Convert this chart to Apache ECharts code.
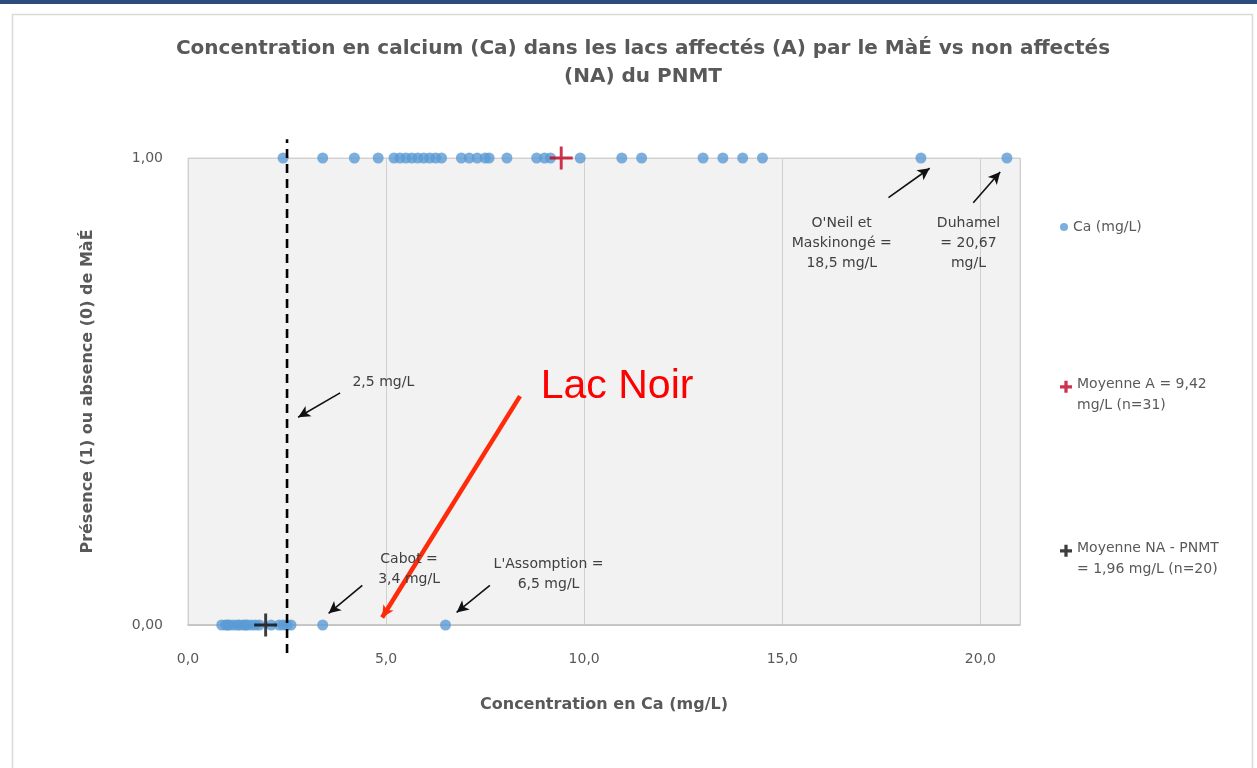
<!DOCTYPE html>
<html><head><meta charset="utf-8">
<script src="https://cdn.jsdelivr.net/npm/echarts@6/dist/echarts.min.js"></script>
<style>html,body{margin:0;padding:0;background:#fff}#c{width:1257px;height:768px}</style>
</head><body><div id="c"></div>
<script>
// Ca (mg/L) in affected lakes (presence = 1)
const caAffected = [2.4, 3.4, 4.2, 4.8, 5.2, 5.35, 5.5, 5.65, 5.8, 5.95, 6.1, 6.25, 6.4,
  6.9, 7.1, 7.3, 7.5, 7.6, 8.05, 8.8, 9.0, 9.15, 9.9, 10.95, 11.45, 13.0, 13.5, 14.0, 14.5, 18.5, 20.67];
// Ca (mg/L) in non-affected lakes (absence = 0)
const caNonAffected = [0.85, 0.95, 1.0, 1.05, 1.15, 1.25, 1.3, 1.4, 1.45, 1.5, 1.6, 1.7, 1.8,
  2.1, 2.3, 2.4, 2.5, 2.6, 3.4, 6.5];
const meanA = 9.42;
const meanNA = 1.96;
const threshold = 2.5;
const xTicks = [0, 5, 10, 15, 20];
const yTicks = [0, 1];

const nameCa = 'Ca (mg/L)';
const nameA = 'Moyenne A = 9,42\nmg/L (n=31)';
const nameNA = 'Moyenne NA - PNMT\n= 1,96 mg/L (n=20)';

const plusPath = 'path://M9.6,0H12.4V22H9.6Z M0,9.6H22V12.4H0Z';
// legend icon: bold plus in the upper part of its box so it sits on the first text line
const plusLegend = 'path://M8,0H14V22H8Z M0,8H22V14H0Z M11,52';
const fr = v => v.toFixed(1).replace('.', ',');
const txt = '#595959';
const font = 'DejaVu Sans';

const pts = caAffected.map(v => [v, 1]).concat(caNonAffected.map(v => [v, 0]));

function arrow(a, b) { return [{ coord: a }, { coord: b }]; }
function note(c, t) { return { coord: c, value: t }; }

const legText = { fontSize: 14, color: txt, fontFamily: font, lineHeight: 21 };

const chart = echarts.init(document.getElementById('c'));
chart.setOption({
  backgroundColor: '#ffffff',
  animation: false,
  textStyle: { fontFamily: font },
  graphic: [
    { type: 'rect', left: 0, top: 0, shape: { width: 1257, height: 4 }, style: { fill: '#2a4b7c' }, z: 10 },
    { type: 'rect', left: 10, top: 12, shape: { width: 1240, height: 800 }, style: { fill: 'none', stroke: '#d9d9d9', lineWidth: 1.5 }, z: 0 }
  ],
  title: {
    text: 'Concentration en calcium (Ca) dans les lacs affectés (A) par le MàÉ vs non affectés\n(NA) du PNMT',
    left: 638, top: 30, textAlign: 'center',
    textStyle: { fontFamily: font, fontSize: 20, fontWeight: 'bold', color: txt, lineHeight: 28 }
  },
  legend: [
    { data: [nameCa], left: 1055, top: 215, orient: 'vertical', icon: 'circle', itemWidth: 8, itemHeight: 8, itemGap: 4,
      textStyle: { fontSize: 14, color: txt, fontFamily: font } },
    { data: [nameA], left: 1055, top: 369, orient: 'vertical', icon: plusLegend, itemWidth: 12, itemHeight: 29,
      textStyle: legText },
    { data: [nameNA], left: 1055, top: 533, orient: 'vertical', icon: plusLegend, itemWidth: 12, itemHeight: 29,
      textStyle: legText }
  ],
  grid: { left: 188, right: 237, top: 158, bottom: 143, show: true, backgroundColor: '#f2f2f2', borderColor: '#d6d6d6', borderWidth: 1 },
  xAxis: {
    type: 'value', min: 0, max: 21, interval: 5,
    name: 'Concentration en Ca (mg/L)', nameLocation: 'middle', nameGap: 72,
    nameTextStyle: { fontSize: 16, fontWeight: 'bold', color: txt, fontFamily: font },
    axisLine: { show: true, lineStyle: { color: '#bfbfbf', width: 1.5 } },
    axisTick: { show: false },
    axisLabel: { showMaxLabel: false, margin: 27, fontSize: 14, color: txt, fontFamily: font,
      formatter: v => xTicks.includes(v) ? fr(v) : '' },
    splitLine: { show: true, lineStyle: { color: '#d0d0d0', width: 1 } }
  },
  yAxis: {
    type: 'value', min: 0, max: 1, interval: 1,
    name: 'Présence (1) ou absence (0) de MàÉ', nameLocation: 'middle', nameGap: 92,
    nameTextStyle: { fontSize: 16, fontWeight: 'bold', color: txt, fontFamily: font },
    axisLine: { show: false }, axisTick: { show: false },
    axisLabel: { margin: 25, fontSize: 14, color: txt, fontFamily: font,
      formatter: v => yTicks.includes(v) ? v.toFixed(2).replace('.', ',') : '' },
    splitLine: { show: true, lineStyle: { color: '#d0d0d0' } }
  },
  series: [
    {
      name: 'seuil', type: 'line', data: [[threshold, -0.06], [threshold, 1.04]], clip: false,
      symbol: 'none', lineStyle: { color: '#000', width: 2.6, type: [9, 6] }, z: 3, silent: true
    },
    {
      name: nameCa, type: 'scatter', data: pts, symbol: 'circle', symbolSize: 11,
      itemStyle: { color: '#5b9bd5' }, z: 2
    },
    {
      name: nameA, type: 'scatter', data: [[meanA, 1]], symbol: plusPath, symbolSize: 23,
      itemStyle: { color: '#c0001f' }, z: 5
    },
    {
      name: nameNA, type: 'scatter', data: [[meanNA, 0]], symbol: plusPath, symbolSize: 23,
      itemStyle: { color: '#0d0d0d' }, z: 5
    },
    {
      name: 'annotations', type: 'scatter', data: [], z: 6, silent: true,
      markLine: {
        silent: true, symbol: ['none', 'arrow'], symbolSize: [9, 12],
        label: { show: false },
        lineStyle: { color: '#111', width: 1.6, type: 'solid' },
        data: [
          arrow([17.68, 0.915], [18.72, 0.978]),
          arrow([19.82, 0.904], [20.5, 0.97]),
          arrow([3.84, 0.497], [2.78, 0.445]),
          arrow([4.4, 0.085], [3.55, 0.025]),
          arrow([7.62, 0.085], [6.78, 0.027]),
          [{ coord: [8.38, 0.49], lineStyle: { color: '#ff2a0a', width: 4.5 }, symbolSize: [15, 20] },
           { coord: [4.9, 0.016] }]
        ]
      },
      markPoint: {
        silent: true, symbol: 'circle', symbolSize: 1, itemStyle: { color: 'rgba(0,0,0,0)' },
        label: { show: true, position: 'inside', color: '#404040', fontSize: 14, lineHeight: 20, fontFamily: font,
          formatter: p => p.value },
        data: [
          note([16.5, 0.817], "O'Neil et\nMaskinongé =\n18,5 mg/L"),
          note([19.7, 0.817], 'Duhamel\n= 20,67\nmg/L'),
          note([4.93, 0.52], '2,5 mg/L'),
          note([5.58, 0.12], 'Cabot =\n3,4 mg/L'),
          note([9.1, 0.108], "L'Assomption =\n6,5 mg/L"),
          { coord: [10.83, 0.51], value: 'Lac Noir',
            label: { color: '#ff0000', fontSize: 41, fontFamily: 'Liberation Sans', lineHeight: 44 } }
        ]
      }
    }
  ]
});
</script>
</body></html>
